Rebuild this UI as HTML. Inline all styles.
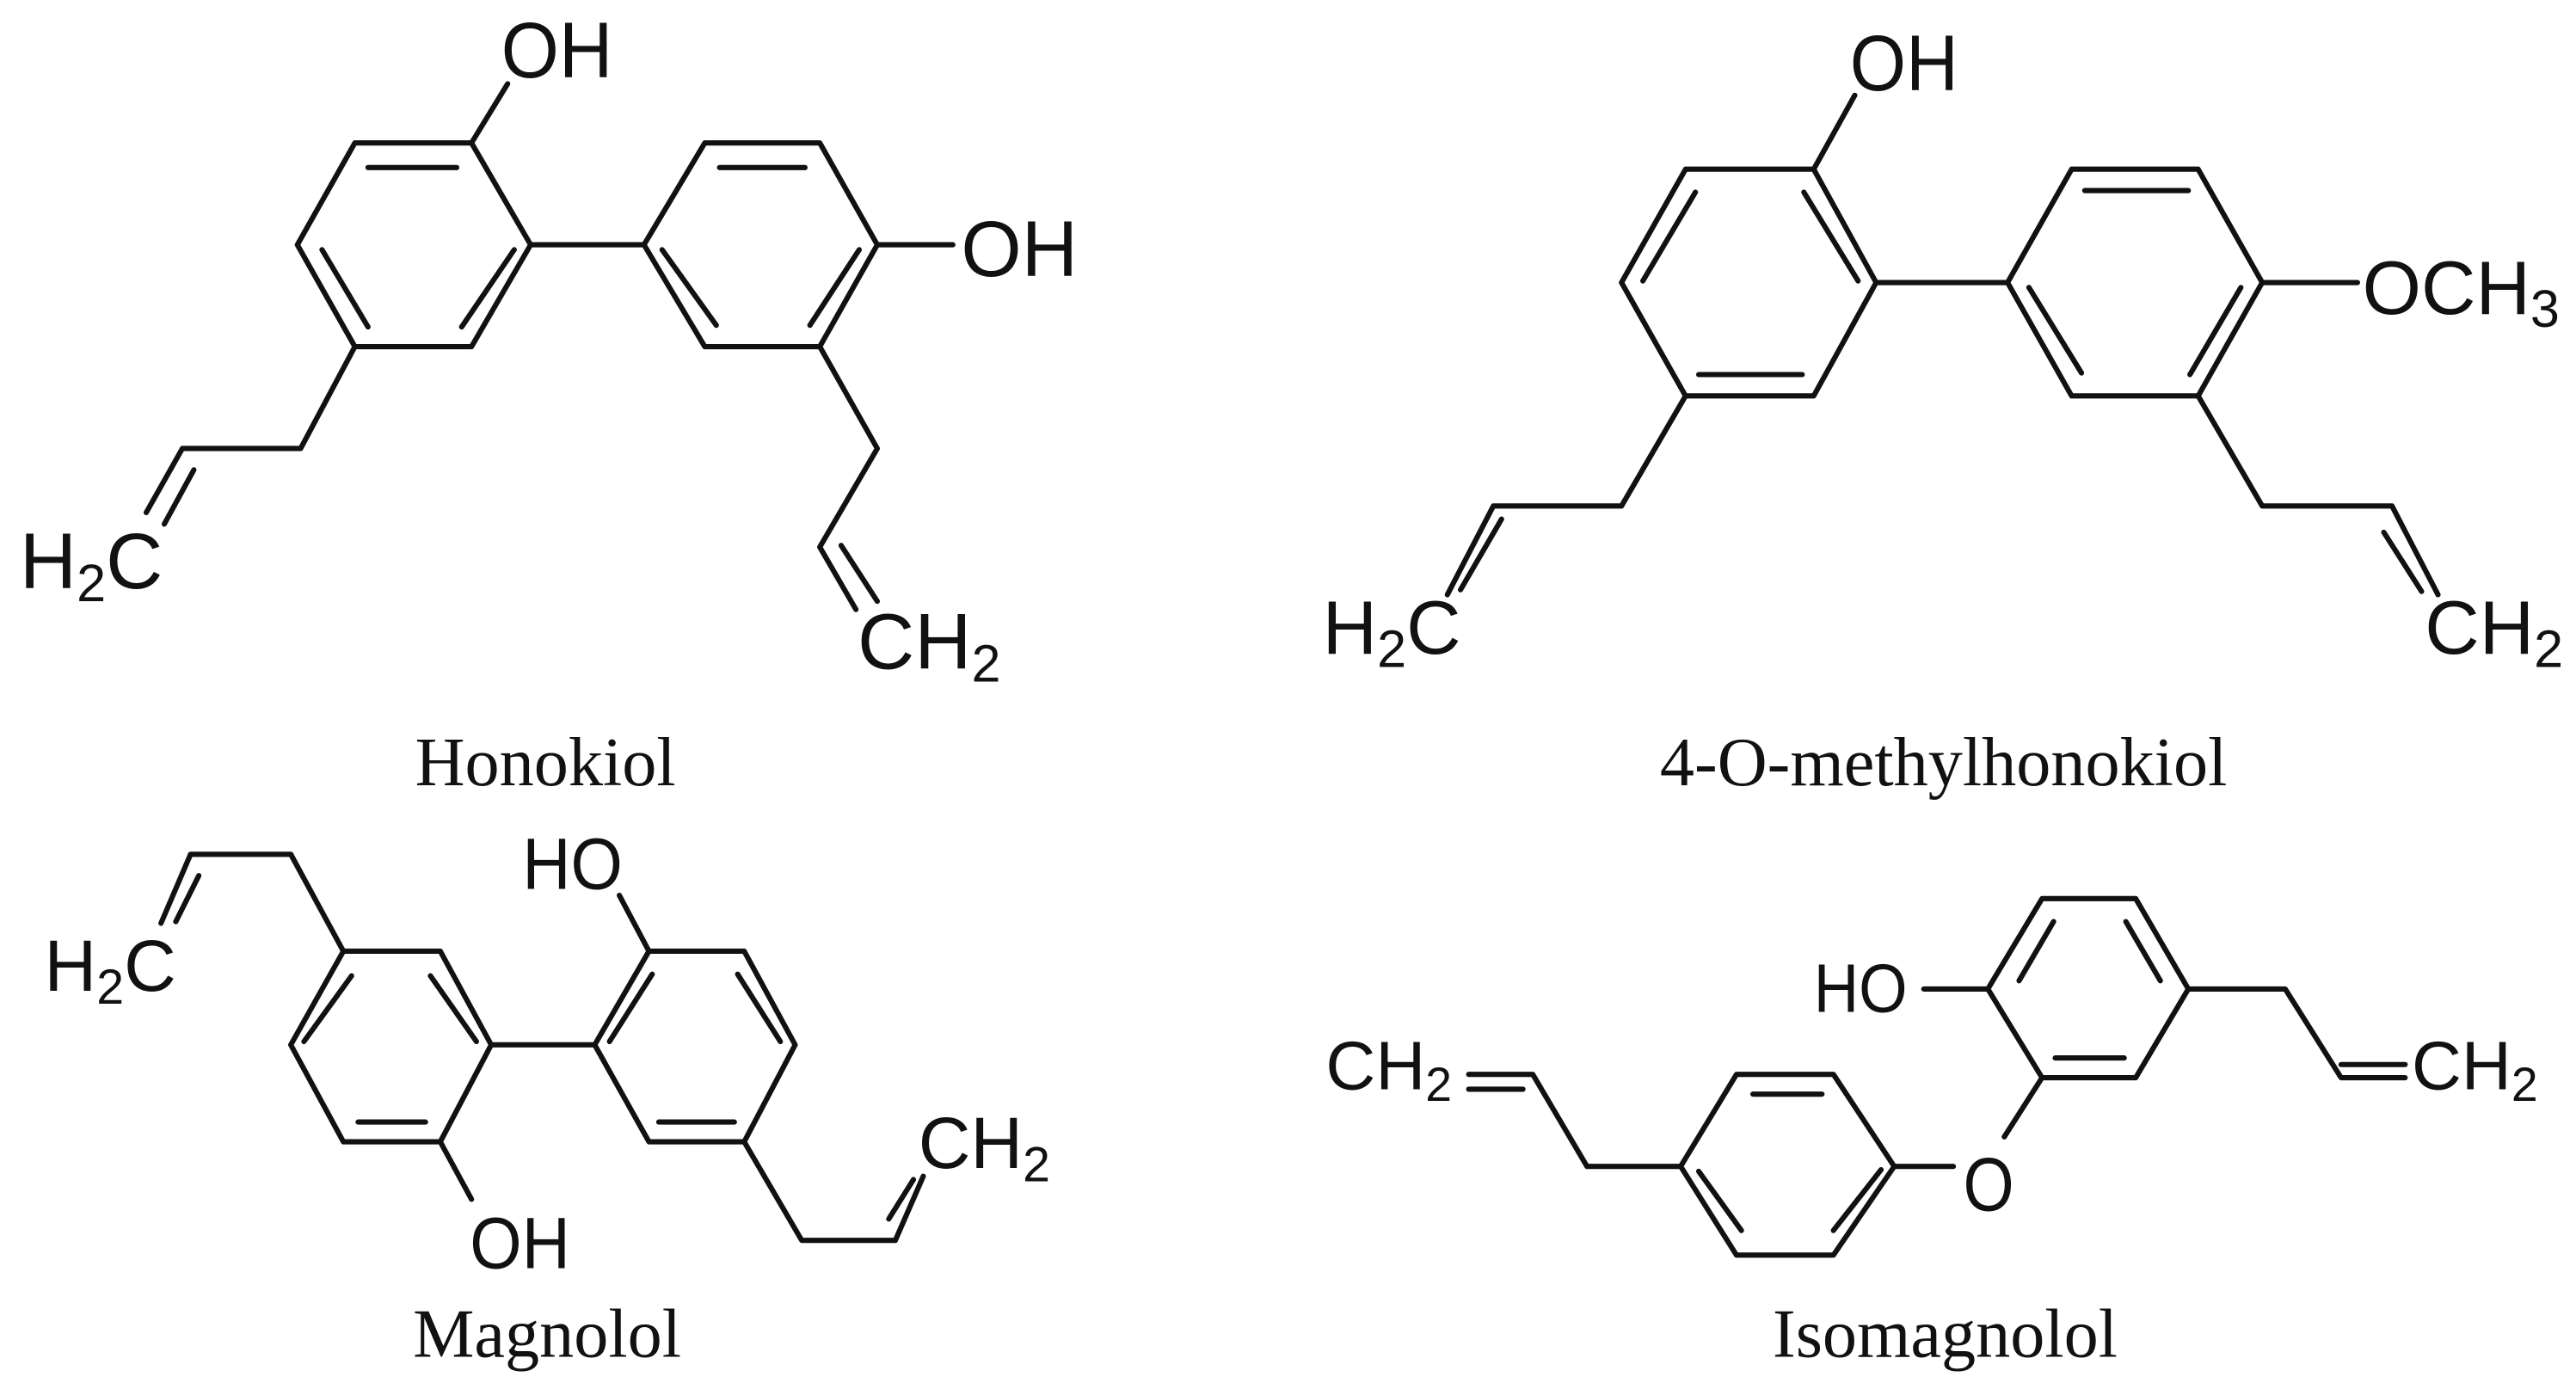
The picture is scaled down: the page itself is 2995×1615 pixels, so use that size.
<!DOCTYPE html>
<html><head><meta charset="utf-8"><style>
html,body{margin:0;padding:0;background:#fff;}
svg{display:block}
.b{stroke:#111;stroke-width:3.2;fill:none;stroke-linecap:round;stroke-linejoin:round}
.a{font-family:"Liberation Sans",Arial,sans-serif;fill:#111}
.c{font-family:"Liberation Serif","Times New Roman",serif;fill:#111;font-size:42px}
</style></head><body>
<svg width="2995" height="1615" viewBox="0 0 1568 845.5" preserveAspectRatio="none" xmlns="http://www.w3.org/2000/svg">
<!-- Honokiol -->
<g class="b">
<polygon points="216,87 287,87 323,149 287,211 216,211 181,149"/>
<line x1="224" y1="102" x2="278" y2="102"/>
<line x1="196" y1="152" x2="224" y2="199"/>
<line x1="313" y1="152" x2="281" y2="199"/>
<line x1="287" y1="87" x2="309" y2="51"/>
<line x1="323" y1="149" x2="392" y2="149"/>
<polygon points="429,87 499,87 534,149 499,211 429,211 392,149"/>
<line x1="438" y1="102" x2="490" y2="102"/>
<line x1="403" y1="152" x2="436" y2="198"/>
<line x1="523" y1="152" x2="493" y2="198"/>
<line x1="534" y1="149" x2="580" y2="149"/>
<polyline points="216,211 183,273 111,273 89,312"/>
<line x1="118" y1="286" x2="100" y2="319"/>
<polyline points="499,211 534,273 499,333 521,371"/>
<line x1="512" y1="332" x2="534" y2="366"/>
</g>
<text class="a" x="305" y="47" font-size="48" textLength="68" lengthAdjust="spacingAndGlyphs">OH</text>
<text class="a" x="585" y="168" font-size="48" textLength="71" lengthAdjust="spacingAndGlyphs">OH</text>
<text class="a" x="12" y="358" font-size="48">H<tspan font-size="32" dy="8">2</tspan><tspan dy="-8">C</tspan></text>
<text class="a" x="522" y="407" font-size="48">CH<tspan font-size="32" dy="8">2</tspan></text>
<text class="c" x="332" y="478" text-anchor="middle">Honokiol</text>

<!-- 4-O-methylhonokiol -->
<g class="b">
<polygon points="1026,103 1104,103 1142,172 1104,241 1026,241 987,172"/>
<line x1="1032" y1="117" x2="1000" y2="171"/>
<line x1="1098" y1="117" x2="1131" y2="171"/>
<line x1="1034" y1="228" x2="1097" y2="228"/>
<line x1="1104" y1="103" x2="1129" y2="58"/>
<line x1="1142" y1="172" x2="1222" y2="172"/>
<polygon points="1261,103 1338,103 1377,172 1338,241 1261,241 1222,172"/>
<line x1="1269" y1="116" x2="1332" y2="116"/>
<line x1="1235" y1="175" x2="1267" y2="227"/>
<line x1="1364" y1="175" x2="1333" y2="228"/>
<line x1="1377" y1="172" x2="1435" y2="172"/>
<polyline points="1026,241 987,308 909,308 881,362"/>
<line x1="914" y1="316" x2="889" y2="359"/>
<polyline points="1338,241 1377,308 1456,308 1484,362"/>
<line x1="1451" y1="324" x2="1474" y2="360"/>
</g>
<text class="a" x="1126" y="55" font-size="48" textLength="66" lengthAdjust="spacingAndGlyphs">OH</text>
<text class="a" x="1438" y="191" font-size="46">OCH<tspan font-size="32" dy="8">3</tspan></text>
<text class="a" x="805" y="398" font-size="46">H<tspan font-size="32" dy="8">2</tspan><tspan dy="-8">C</tspan></text>
<text class="a" x="1476" y="398" font-size="46">CH<tspan font-size="32" dy="8">2</tspan></text>
<text class="c" x="1183" y="478" text-anchor="middle">4-O-methylhonokiol</text>

<!-- Magnolol -->
<g class="b" stroke="#222">
<polygon points="209,579 268,579 299,636 268,695 209,695 177,636"/>
<line x1="262" y1="594" x2="290" y2="634"/>
<line x1="214" y1="594" x2="185" y2="634"/>
<line x1="218" y1="683" x2="259" y2="683"/>
<line x1="299" y1="636" x2="362" y2="636"/>
<polygon points="395,579 453,579 484,636 453,695 395,695 362,636"/>
<line x1="397" y1="593" x2="371" y2="634"/>
<line x1="449" y1="593" x2="475" y2="634"/>
<line x1="401" y1="683" x2="447" y2="683"/>
<line x1="395" y1="579" x2="377" y2="545"/>
<line x1="268" y1="695" x2="287" y2="730"/>
<polyline points="209,579 177,520 116,520 98,562"/>
<line x1="121" y1="533" x2="107" y2="561"/>
<polyline points="453,695 488,755 545,755 562,716"/>
<line x1="541" y1="742" x2="556" y2="718"/>
</g>
<text class="a" x="318" y="541" font-size="44" textLength="61" lengthAdjust="spacingAndGlyphs">HO</text>
<text class="a" x="286" y="772" font-size="44" textLength="61" lengthAdjust="spacingAndGlyphs">OH</text>
<text class="a" x="27" y="603" font-size="44">H<tspan font-size="30" dy="8">2</tspan><tspan dy="-8">C</tspan></text>
<text class="a" x="559" y="711" font-size="44">CH<tspan font-size="30" dy="8">2</tspan></text>
<text class="c" x="333" y="826" text-anchor="middle">Magnolol</text>

<!-- Isomagnolol -->
<g class="b" stroke="#222">
<polygon points="1243,547 1300,547 1332,602 1300,656 1243,656 1210,602"/>
<line x1="1250" y1="561" x2="1229" y2="597"/>
<line x1="1294" y1="561" x2="1315" y2="597"/>
<line x1="1251" y1="644" x2="1293" y2="644"/>
<line x1="1210" y1="602" x2="1171" y2="602"/>
<polyline points="1332,602 1391,602 1425,656 1464,656"/>
<line x1="1425" y1="648" x2="1464" y2="648"/>
<line x1="1243" y1="656" x2="1220" y2="692"/>
<polygon points="1057,654 1116,654 1153,710 1116,764 1057,764 1023,710"/>
<line x1="1067" y1="666" x2="1109" y2="666"/>
<line x1="1034" y1="713" x2="1060" y2="749"/>
<line x1="1145" y1="712" x2="1116" y2="749"/>
<line x1="1153" y1="710" x2="1189" y2="710"/>
<polyline points="1023,710 966,710 933,654 894,654"/>
<line x1="894" y1="663" x2="927" y2="663"/>
</g>
<text class="a" x="1104" y="616" font-size="42" textLength="57" lengthAdjust="spacingAndGlyphs">HO</text>
<text class="a" x="1195" y="737" font-size="46" textLength="31" lengthAdjust="spacingAndGlyphs">O</text>
<text class="a" x="1468" y="663" font-size="42">CH<tspan font-size="29" dy="7">2</tspan></text>
<text class="a" x="807" y="663" font-size="42">CH<tspan font-size="29" dy="7">2</tspan></text>
<text class="c" x="1184" y="826" text-anchor="middle">Isomagnolol</text>
</svg>
</body></html>
